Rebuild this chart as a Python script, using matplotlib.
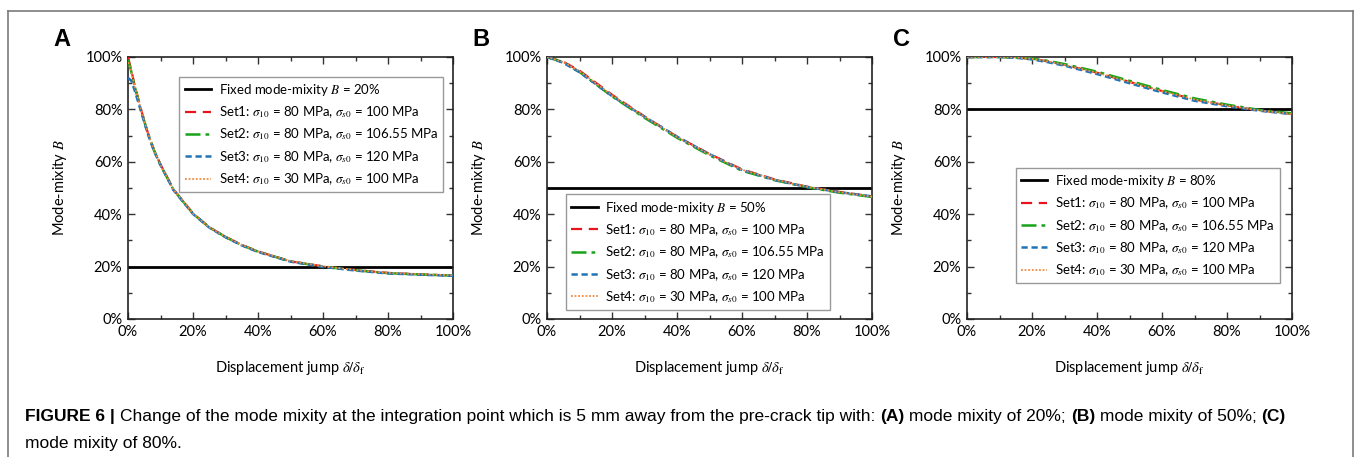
import matplotlib
matplotlib.use("Agg")
import matplotlib.pyplot as plt
from matplotlib.lines import Line2D
from matplotlib.font_manager import FontProperties
from matplotlib.ticker import MultipleLocator, PercentFormatter

# ---------------- data (percent) ----------------
xA = [0, 1, 2, 4, 6, 8, 10, 14, 20, 25, 30, 35, 40, 50, 60, 70, 80, 90, 100]
A_set1 = [100, 95, 89.5, 80, 71.5, 64.5, 59, 49.5, 40.3, 35, 31.4, 28.3, 25.8, 22, 20.1, 18.7, 17.6, 17, 16.6]
A_set2 = [99, 94.5, 89, 79.8, 71.3, 64.3, 58.8, 49.3, 40.2, 35, 31.3, 28.2, 25.7, 22, 20, 18.6, 17.5, 17, 16.6]
A_set3 = [92, 91, 87.5, 79.3, 71, 64.2, 58.7, 49.2, 40.1, 34.9, 31.2, 28.1, 25.6, 21.9, 19.9, 18.5, 17.4, 16.9, 16.5]
A_set4 = [98, 94.8, 89.2, 80, 71.4, 64.4, 58.9, 49.4, 40.3, 35, 31.4, 28.3, 25.8, 22.1, 20.1, 18.7, 17.6, 17.1, 16.7]

xB = [0, 5, 10, 20, 30, 40, 50, 60, 70, 80, 90, 100]
B_set1 = [100, 98.2, 94.8, 85.6, 77.3, 69.6, 63, 57.1, 53.3, 50.5, 48.5, 46.8]
B_set2 = [100, 98, 94.3, 85, 76.8, 69.2, 62.5, 56.6, 53, 50.3, 48.2, 46.6]
B_set3 = [100, 97.8, 94.2, 85.1, 77.2, 69.6, 62.9, 56.9, 53.1, 50.4, 48.4, 46.8]
B_set4 = [100, 98.1, 94.6, 85.4, 77.2, 69.5, 62.8, 57, 53.2, 50.5, 48.4, 46.7]

xC = [0, 10, 15, 20, 25, 30, 40, 50, 60, 70, 80, 90, 100]
C_set1 = [100, 100, 99.8, 99.3, 98.3, 97, 94, 90.5, 87, 83.8, 81.5, 79.6, 78.3]
C_set2 = [100, 100, 99.8, 99.4, 98.5, 97.3, 94.4, 90.9, 87.4, 84.2, 81.8, 79.8, 78.5]
C_set3 = [100, 100, 99.7, 99.1, 98, 96.7, 93.5, 90, 86.5, 83.3, 81.2, 79.5, 78.2]
C_set4 = [100, 100, 99.8, 99.3, 98.3, 97, 94, 90.5, 87, 83.8, 81.5, 79.6, 78.3]

fixed_B = [20, 50, 80]
panel_letters = ["A", "B", "C"]
set_params = [("80", "100"), ("80", "106.55"), ("80", "120"), ("30", "100")]
x_ticks = [0, 20, 40, 60, 80, 100]
caption_line1 = [
    ("FIGURE 6 | ", "bold"),
    ("Change of the mode mixity at the integration point which is 5 mm away from the pre-crack tip with: ", "normal"),
    ("(A)", "bold"), (" mode mixity of 20%; ", "normal"),
    ("(B)", "bold"), (" mode mixity of 50%; ", "normal"),
    ("(C)", "bold"),
]
caption_line2 = "mode mixity of 80%."

# ---------------- style ----------------
W, H, DPI = 1356, 457, 100
fig = plt.figure(figsize=(W / DPI, H / DPI), dpi=DPI)
plt.rcParams["font.family"] = ["Lato", "DejaVu Sans"]
plt.rcParams["mathtext.fontset"] = "stix"

colors = ["#e8141c", "#19a319", "#1f74b8", "#f58a3c"]
styles = [(0, (5, 3)), (0, (6, 2, 1.5, 2)), (0, (2.5, 1.5)), (0, (1, 1))]
lws = [1.6, 1.8, 1.8, 1.3]

panels = [
    (xA, [A_set1, A_set2, A_set3, A_set4]),
    (xB, [B_set1, B_set2, B_set3, B_set4]),
    (xC, [C_set1, C_set2, C_set3, C_set4]),
]
lefts = [128, 547, 967]
ax_w, ax_top, ax_bot = 325, 57, 319
legend_anchor = [("upper right", (0.97, 0.925)), ("lower left", (0.058, 0.034)), ("lower left", (0.15, 0.136))]

def fx(px):
    return px / W

def fy(py):
    return 1 - py / H

leg_font = FontProperties(family=["Lato", "DejaVu Sans"], size=9.5, math_fontfamily="stix")

for i, (xs, sets) in enumerate(panels):
    ax = fig.add_axes([fx(lefts[i]), fy(ax_bot), ax_w / W, (ax_bot - ax_top) / H])
    ax.axhline(fixed_B[i], color="black", lw=2.0, zorder=2,
               label=f"Fixed mode-mixity $B$ = {fixed_B[i]}%")
    for k, ys in enumerate(sets):
        a, b = set_params[k]
        ax.plot(xs, ys, color=colors[k], ls=styles[k], lw=lws[k], zorder=3,
                label=f"Set{k+1}: $\\sigma_{{10}}$ = {a} MPa, $\\sigma_{{s0}}$ = {b} MPa")
    ax.set_xlim(0, 100)
    ax.set_ylim(0, 100)
    ax.set_xticks(x_ticks)
    ax.set_yticks(x_ticks)
    ax.xaxis.set_minor_locator(MultipleLocator(10))
    ax.yaxis.set_minor_locator(MultipleLocator(10))
    ax.xaxis.set_major_formatter(PercentFormatter(decimals=0))
    ax.yaxis.set_major_formatter(PercentFormatter(decimals=0))
    ax.tick_params(which="both", direction="in", top=True, right=True, width=1.0,
                   labelsize=10.5, color="#333333")
    ax.tick_params(which="major", length=5, pad=4)
    ax.tick_params(which="minor", length=3)
    for s in ax.spines.values():
        s.set_linewidth(1.2)
        s.set_color("#222222")
    ax.set_xlabel(r"Displacement jump $\delta/\delta_{\mathrm{f}}$", fontsize=10.5, labelpad=15)
    ax.set_ylabel(r"Mode-mixity $B$", fontsize=10.5, labelpad=12)
    loc, anchor = legend_anchor[i]
    leg = ax.legend(loc=loc, bbox_to_anchor=anchor, prop=leg_font, frameon=True,
                    fancybox=False, edgecolor="#999999", framealpha=1.0,
                    handlelength=2.0, labelspacing=0.5, borderpad=0.4,
                    handletextpad=0.6, borderaxespad=0)
    leg.get_frame().set_linewidth(1.0)
    fig.text(fx(lefts[i] - 66), fy(39), panel_letters[i], fontsize=17, fontweight="bold",
             family=["Liberation Sans", "DejaVu Sans"], ha="center", va="center")

# outer frame
frame_col = "#7a7a7a"
fig.add_artist(Line2D([fx(8), fx(8)], [0, fy(11)], color=frame_col, lw=1.2))
fig.add_artist(Line2D([fx(1353), fx(1353)], [0, fy(11)], color=frame_col, lw=1.2))
fig.add_artist(Line2D([fx(8), fx(1353)], [fy(11), fy(11)], color=frame_col, lw=1.2))

# caption, mixed bold/regular pieces laid out one after another
renderer = fig.canvas.get_renderer()
cap_family = ["Liberation Sans", "DejaVu Sans"]
cap_size = 12.55
xcur = 25.0
base1 = 421
for txt, wt in caption_line1:
    t = fig.text(fx(xcur), fy(base1), txt, fontsize=cap_size, fontweight=wt,
                 family=cap_family, va="baseline", ha="left")
    bb = t.get_window_extent(renderer)
    xcur += bb.width
fig.text(fx(25), fy(448), caption_line2, fontsize=cap_size, family=cap_family,
         va="baseline", ha="left")

fig.savefig("out.png", dpi=DPI)
